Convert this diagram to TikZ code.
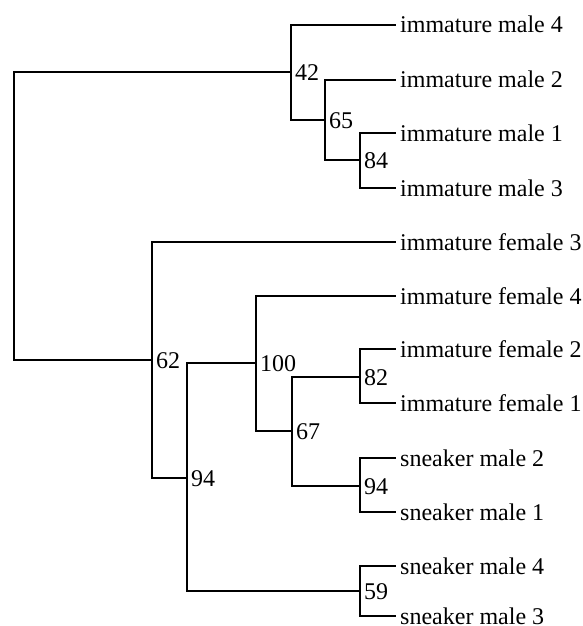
\documentclass[tikz,border=0pt]{standalone}
\usepackage{fontspec}
\setmainfont{Liberation Serif}
\begin{document}
\begin{tikzpicture}[x=1pt,y=-1pt,
  branch/.style={draw=black, line width=1.6pt},
  tiplabel/.style={anchor=base west, inner sep=0pt, xshift=4pt, yshift=-8pt, font=\fontsize{24}{28}\selectfont},
  supplabel/.style={anchor=base west, inner sep=0pt, xshift=4pt, yshift=-8pt, font=\fontsize{24}{28}\selectfont}]
\useasboundingbox (0,0) rectangle (582,626);
% internal nodes
\coordinate (root) at (14,216);
\coordinate (n42) at (291,72);
\coordinate (n65) at (325,120);
\coordinate (n84) at (360,160);
\coordinate (n62) at (152,360);
\coordinate (n94a) at (187,478);
\coordinate (n100) at (256,363);
\coordinate (n67) at (292,431);
\coordinate (n82) at (360,377);
\coordinate (n94b) at (360,486);
\coordinate (n59) at (360,591);
% tips
\coordinate (m4) at (396,25);
\coordinate (m2) at (396,80);
\coordinate (m1) at (396,133);
\coordinate (m3) at (396,188);
\coordinate (f3) at (396,242);
\coordinate (f4) at (396,296);
\coordinate (f2) at (396,349);
\coordinate (f1) at (396,403);
\coordinate (s2) at (396,458);
\coordinate (s1) at (396,512);
\coordinate (s4) at (396,566);
\coordinate (s3) at (396,616);
% branches
\draw[branch] (root) |- (n42);
\draw[branch] (root) |- (n62);
\draw[branch] (n42) |- (m4);
\draw[branch] (n42) |- (n65);
\draw[branch] (n65) |- (m2);
\draw[branch] (n65) |- (n84);
\draw[branch] (n84) |- (m1);
\draw[branch] (n84) |- (m3);
\draw[branch] (n62) |- (f3);
\draw[branch] (n62) |- (n94a);
\draw[branch] (n94a) |- (n100);
\draw[branch] (n94a) |- (n59);
\draw[branch] (n100) |- (f4);
\draw[branch] (n100) |- (n67);
\draw[branch] (n67) |- (n82);
\draw[branch] (n67) |- (n94b);
\draw[branch] (n82) |- (f2);
\draw[branch] (n82) |- (f1);
\draw[branch] (n94b) |- (s2);
\draw[branch] (n94b) |- (s1);
\draw[branch] (n59) |- (s4);
\draw[branch] (n59) |- (s3);
% tip labels
\node[tiplabel] (lm4) at (m4) {immature male 4};
\node[tiplabel] (lm2) at (m2) {immature male 2};
\node[tiplabel] (lm1) at (m1) {immature male 1};
\node[tiplabel] (lm3) at (m3) {immature male 3};
\node[tiplabel] (lf3) at (f3) {immature female 3};
\node[tiplabel] (lf4) at (f4) {immature female 4};
\node[tiplabel] (lf2) at (f2) {immature female 2};
\node[tiplabel] (lf1) at (f1) {immature female 1};
\node[tiplabel] (ls2) at (s2) {sneaker male 2};
\node[tiplabel] (ls1) at (s1) {sneaker male 1};
\node[tiplabel] (ls4) at (s4) {sneaker male 4};
\node[tiplabel] (ls3) at (s3) {sneaker male 3};
% support labels
\node[supplabel] (b42) at (n42) {42};
\node[supplabel] (b65) at (n65) {65};
\node[supplabel] (b84) at (n84) {84};
\node[supplabel] (b62) at (n62) {62};
\node[supplabel] (b94a) at (n94a) {94};
\node[supplabel] (b100) at (n100) {100};
\node[supplabel] (b67) at (n67) {67};
\node[supplabel] (b82) at (n82) {82};
\node[supplabel] (b94b) at (n94b) {94};
\node[supplabel] (b59) at (n59) {59};
\end{tikzpicture}
\end{document}
